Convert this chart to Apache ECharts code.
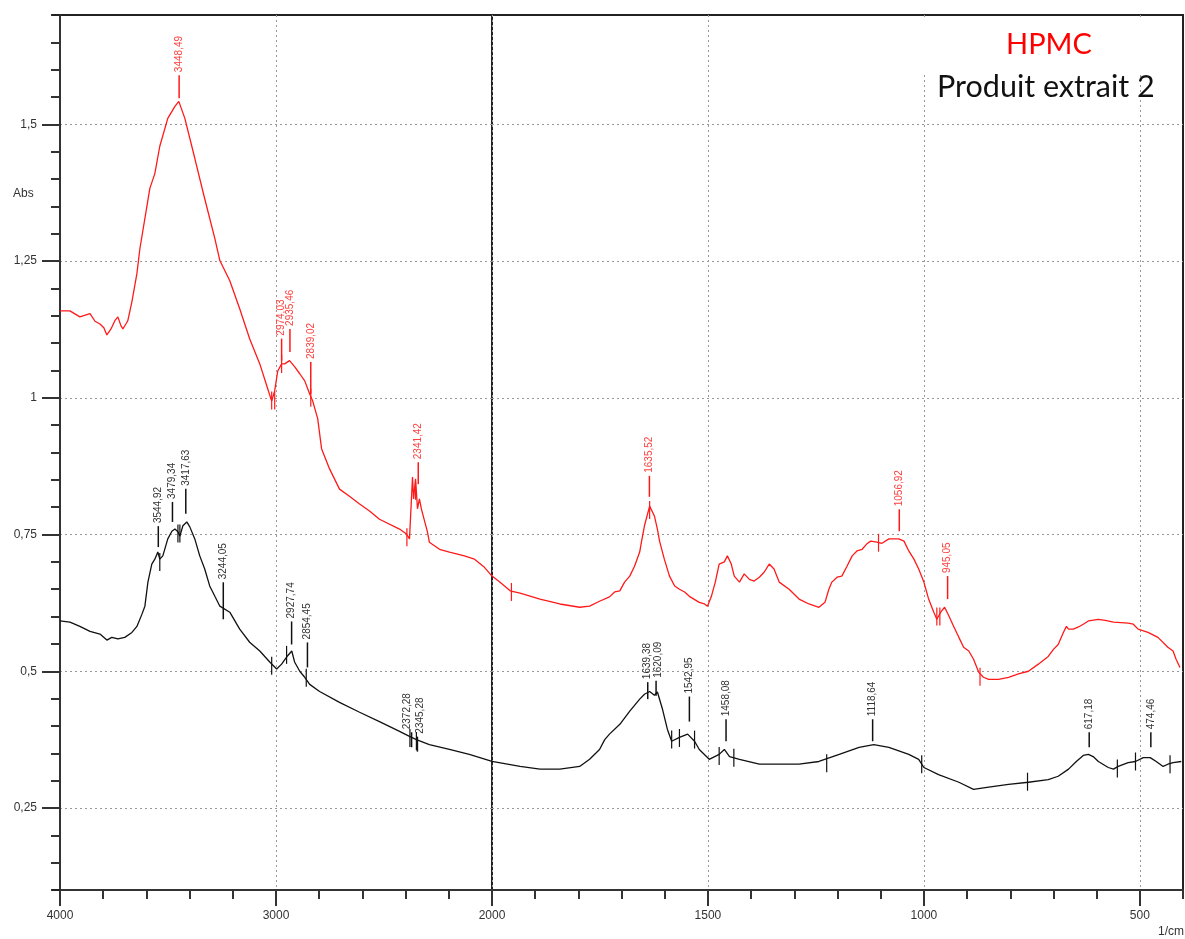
<!DOCTYPE html>
<html>
<head>
<meta charset="utf-8">
<script src="https://cdn.jsdelivr.net/npm/echarts@6/dist/echarts.min.js"></script>
<style>
html, body { margin: 0; padding: 0; background: #fff; }
#main { width: 1185px; height: 939px; }
</style>
</head>
<body>
<div id="main"></div>
<script>
// spectre IR : HPMC (rouge) / Produit extrait 2 (noir)
var redWn = [4000, 3954, 3908, 3861, 3838, 3815, 3797, 3783, 3764, 3746, 3732, 3718, 3709, 3695, 3686, 3667, 3644, 3630,
	3584, 3561, 3538, 3501, 3468, 3450, 3422, 3376, 3330, 3283, 3260, 3214, 3168, 3122, 3075, 3038, 3020, 3006, 2992,
	2974, 2960, 2937, 2914, 2890, 2867, 2844, 2830, 2807, 2789, 2752, 2706, 2660, 2613, 2567, 2521, 2428, 2396, 2382,
	2368, 2363, 2354, 2345, 2336, 2327, 2299, 2290, 2243, 2197, 2128, 2081, 2035, 2000,
	1982, 1958, 1935, 1889, 1843, 1797, 1774, 1751, 1728, 1716, 1704, 1693, 1681, 1670, 1658, 1654, 1647, 1635, 1631,
	1624, 1617, 1612, 1601, 1589, 1577, 1566, 1554, 1543, 1520, 1508, 1501, 1492, 1483, 1474, 1462, 1455, 1446, 1439,
	1427, 1416, 1404, 1393, 1381, 1370, 1358, 1347, 1335, 1312, 1289, 1266, 1243, 1229, 1220, 1213, 1201, 1190, 1178,
	1166, 1155, 1143, 1132, 1123, 1109, 1097, 1081, 1058, 1046, 1035, 1023, 1012, 1000, 989, 977, 970, 961, 952, 942,
	931, 919, 908, 896, 885, 873, 862, 850, 827, 804, 781, 758, 735, 712, 700, 689, 677, 670, 665, 654, 642, 631, 619,
	596, 580, 561, 527, 515, 504, 481, 458, 435, 423, 416, 407];
var redAbs = [1.159, 1.159, 1.148, 1.154, 1.140, 1.135, 1.128, 1.115, 1.126, 1.141, 1.148, 1.132, 1.126, 1.135, 1.141, 1.176, 1.227, 1.273,
	1.383, 1.410, 1.460, 1.511, 1.533, 1.542, 1.511, 1.438, 1.364, 1.291, 1.251, 1.214, 1.163, 1.108, 1.062, 1.016, 0.994, 1.013, 1.049,
	1.062, 1.062, 1.068, 1.057, 1.044, 1.031, 1.007, 0.994, 0.962, 0.907, 0.870, 0.833, 0.820, 0.806, 0.793, 0.778, 0.760, 0.751, 0.742,
	0.855, 0.815, 0.852, 0.797, 0.815, 0.797, 0.755, 0.736, 0.723, 0.718, 0.711, 0.705, 0.690, 0.674,
	0.663, 0.647, 0.643, 0.632, 0.623, 0.617, 0.619, 0.628, 0.636, 0.645, 0.647, 0.663, 0.674, 0.692, 0.718, 0.736, 0.766, 0.802, 0.800,
	0.784, 0.760, 0.738, 0.705, 0.674, 0.656, 0.650, 0.645, 0.637, 0.626, 0.623, 0.619, 0.637, 0.663, 0.696, 0.700, 0.711, 0.696, 0.674,
	0.663, 0.678, 0.668, 0.665, 0.672, 0.681, 0.696, 0.687, 0.663, 0.650, 0.632, 0.623, 0.617, 0.626, 0.650, 0.663, 0.672, 0.674, 0.692,
	0.711, 0.720, 0.723, 0.733, 0.738, 0.736, 0.734, 0.742, 0.742, 0.738, 0.720, 0.705, 0.687, 0.663, 0.632, 0.608, 0.595, 0.608, 0.617, 0.601,
	0.582, 0.562, 0.544, 0.537, 0.522, 0.498, 0.489, 0.485, 0.485, 0.489, 0.495, 0.500, 0.513, 0.527, 0.540, 0.549, 0.571, 0.582, 0.577, 0.577, 0.581, 0.586, 0.592,
	0.595, 0.593, 0.590, 0.588, 0.586, 0.577, 0.571, 0.562, 0.544, 0.537, 0.522, 0.507];

var blackWn = [4000, 3954, 3908, 3861, 3815, 3783, 3760, 3732, 3700, 3667, 3644, 3621, 3607, 3593, 3575, 3561, 3547, 3538,
	3524, 3501, 3482, 3468, 3454, 3445, 3431, 3413, 3399, 3376, 3353, 3330, 3307, 3283, 3260, 3214, 3168, 3122, 3075,
	3029, 2997, 2974, 2951, 2927, 2914, 2890, 2867, 2844, 2798, 2706, 2613, 2521, 2428, 2382, 2350, 2290, 2197, 2105, 2000,
	1935, 1889, 1843, 1797, 1774, 1751, 1739, 1728, 1704, 1681, 1658, 1647, 1635, 1624, 1617, 1605, 1594, 1584, 1566,
	1547, 1531, 1520, 1497, 1474, 1462, 1450, 1427, 1381, 1335, 1289, 1243, 1196, 1150, 1116, 1081, 1035, 1012, 1000,
	966, 919, 885, 850, 804, 758, 712, 689, 665, 647, 631, 619, 608, 596, 573, 561, 550, 527, 510, 492, 476, 462, 446,
	435, 423, 404];
var blackAbs = [0.592, 0.590, 0.582, 0.573, 0.568, 0.557, 0.562, 0.559, 0.562, 0.571, 0.582, 0.604, 0.619, 0.663, 0.696, 0.705, 0.718, 0.705,
	0.711, 0.742, 0.756, 0.760, 0.755, 0.747, 0.766, 0.773, 0.764, 0.742, 0.711, 0.687, 0.656, 0.637, 0.619, 0.608, 0.577, 0.553, 0.537,
	0.517, 0.504, 0.513, 0.526, 0.537, 0.517, 0.500, 0.489, 0.476, 0.463, 0.443, 0.425, 0.408, 0.390, 0.381, 0.375, 0.366, 0.357, 0.348, 0.335,
	0.326, 0.321, 0.321, 0.326, 0.339, 0.357, 0.375, 0.385, 0.403, 0.427, 0.449, 0.458, 0.463, 0.456, 0.462, 0.430, 0.394, 0.372, 0.379,
	0.385, 0.372, 0.357, 0.339, 0.348, 0.357, 0.344, 0.339, 0.330, 0.330, 0.330, 0.335, 0.348, 0.361, 0.366, 0.361, 0.348, 0.339, 0.324,
	0.311, 0.297, 0.284, 0.288, 0.293, 0.297, 0.302, 0.308, 0.321, 0.335, 0.346, 0.348, 0.344, 0.335, 0.324, 0.321, 0.326, 0.333, 0.335, 0.342, 0.342, 0.335, 0.326,
	0.330, 0.333, 0.335];

// pics annotés (nombre d'onde, absorbance au pied du trait)
var redPeakWn = [3448.49, 2974.03, 2935.46, 2839.02, 2341.42, 1635.52, 1056.92, 945.05];
var redPeakAbs = [1.548, 1.068, 1.084, 1.007, 0.842, 0.819, 0.756, 0.632];
var blackPeakWn = [3544.92, 3479.34, 3417.63, 3244.05, 2927.74, 2854.45, 2372.28, 2345.28, 1639.38, 1620.09, 1542.95, 1458.08, 1118.64, 617.18, 474.46];
var blackPeakAbs = [0.727, 0.773, 0.788, 0.595, 0.549, 0.507, 0.361, 0.353, 0.449, 0.455, 0.408, 0.372, 0.372, 0.361, 0.361];

// petits traits de vallée
var redValleyWn = [3020, 3006, 2974, 2839, 2394, 2354, 1955, 1635, 1105, 970, 963, 870];
var redValleyAbs = [0.995, 0.995, 1.062, 1.000, 0.745, 0.830, 0.645, 0.795, 0.735, 0.600, 0.600, 0.490];
var blackValleyWn = [3538, 3454, 3445, 3020, 2951, 2860, 2380, 2350, 1584, 1566, 1531, 1474, 1440, 1225, 1005, 760, 552, 510, 430];
var blackValleyAbs = [0.700, 0.752, 0.752, 0.510, 0.530, 0.488, 0.378, 0.372, 0.375, 0.378, 0.375, 0.345, 0.342, 0.332, 0.330, 0.298, 0.322, 0.335, 0.330];

// graduations
var xMajorLeft = [4000, 3000, 2000];
var xLabelLeft = [4000, 3000];
var xMinorLeft = [4000, 3800, 3600, 3400, 3200, 3000, 2800, 2600, 2400, 2200, 2000];
var xMajorRight = [2000, 1500, 1000, 500];
var xMinorRight = [2000, 1900, 1800, 1700, 1600, 1500, 1400, 1300, 1200, 1100, 1000, 900, 800, 700, 600, 500, 400];
var yMajor = [0.25, 0.5, 0.75, 1, 1.25, 1.5];
var yMinor = [0.1, 0.15, 0.2, 0.25, 0.3, 0.35, 0.4, 0.45, 0.5, 0.55, 0.6, 0.65, 0.7, 0.75, 0.8, 0.85, 0.9, 0.95,
	1, 1.05, 1.1, 1.15, 1.2, 1.25, 1.3, 1.35, 1.4, 1.45, 1.5, 1.55, 1.6, 1.65, 1.7];

// longueur des traits d'annotation et décalage du texte (px)
var redStem = [23, 22, 23, 32, 22, 21, 22, 23];
var blackStem = [21, 20, 25, 37, 23, 25, 15, 15, 17, 15, 25, 22, 22, 15, 15];
var blackTextDx = [0, 0, 0, 0, 0, 0, -4, 3, 0, 2, 0, 0, 0, 0, 0];

var RED = '#ff1a1a', BLACK = '#111111';
var Y_MIN = 0.1, Y_MAX = 1.7;

function comma(v) {
	return String(v).replace('.', ',');
}

// coupe une série en deux morceaux (4000-2000 / 2000-400)
function split(wn, ab, left) {
	var out = [];
	for (var i = 0; i < wn.length; i++) {
		if (left ? wn[i] >= 2000 : wn[i] <= 2000) out.push([wn[i], ab[i]]);
	}
	return out;
}
function splitIdx(wn, ab, left) {
	var out = [];
	for (var i = 0; i < wn.length; i++) {
		if (left ? wn[i] >= 2000 : wn[i] < 2000) out.push([wn[i], ab[i], i]);
	}
	return out;
}

function peakRender(wnArr, stemArr, dxArr, lineColor, textColor) {
	return function(params, api) {
		var i = api.value(2);
		var p = api.coord([api.value(0), api.value(1)]);
		var top = p[1] - stemArr[i];
		var dx = dxArr ? dxArr[i] : 0;
		return {
			type: 'group',
			children: [{
				type: 'line',
				shape: { x1: p[0], y1: p[1], x2: p[0], y2: top },
				style: { stroke: lineColor, lineWidth: 1.5 }
			}, {
				type: 'text',
				x: p[0] + dx,
				y: top - 3,
				rotation: Math.PI / 2,
				style: {
					text: comma(wnArr[i].toFixed(2)),
					fill: textColor,
					font: '10px "Liberation Sans", Arial, sans-serif',
					align: 'left',
					verticalAlign: 'middle'
				}
			}]
		};
	};
}
function valleyRender(color) {
	return function(params, api) {
		var p = api.coord([api.value(0), api.value(1)]);
		return {
			type: 'line',
			shape: { x1: p[0], y1: p[1] - 9, x2: p[0], y2: p[1] + 9 },
			style: { stroke: color, lineWidth: 1.2 }
		};
	};
}

var myChart = echarts.init(document.getElementById('main'));

var tickLabel = { color: '#333', fontSize: 12, fontFamily: '"Liberation Sans", Arial, sans-serif' };
var dotted = { show: true, lineStyle: { color: '#999', width: 1, type: [2, 3] } };

function xAxis(grid, min, max, major, labels, ticks, len, showSplit) {
	return {
		type: 'value', gridIndex: grid, position: 'bottom', inverse: true, min: min, max: max,
		axisLine: { show: true, lineStyle: { color: '#333', width: 2 } },
		axisTick: { show: true, inside: false, length: len, customValues: ticks, lineStyle: { color: '#333', width: 2 } },
		axisLabel: major ? Object.assign({ show: true, margin: 20, customValues: labels, formatter: function(v) { return String(v); } }, tickLabel) : { show: false },
		splitLine: showSplit ? dotted : { show: false }
	};
}

option = {
	animation: false,
	backgroundColor: '#fff',
	grid: [
		{ left: 60, top: 15, width: 432, bottom: 49, show: true, borderColor: '#222', borderWidth: 2 },
		{ left: 492, top: 15, right: 2, bottom: 49, show: true, borderColor: '#222', borderWidth: 2 }
	],
	xAxis: [
		xAxis(0, 2000, 4000, true, xLabelLeft, xMajorLeft, 16, true),
		xAxis(0, 2000, 4000, false, null, xMinorLeft, 9, false),
		xAxis(1, 400, 2000, true, xMajorRight, xMajorRight, 16, true),
		xAxis(1, 400, 2000, false, null, xMinorRight, 9, false)
	],
	yAxis: [{
		type: 'value', gridIndex: 0, position: 'left', min: Y_MIN, max: Y_MAX,
		axisLine: { show: true, lineStyle: { color: '#333', width: 2 } },
		axisTick: { show: true, length: 18, customValues: yMajor, lineStyle: { color: '#333', width: 2 } },
		axisLabel: Object.assign({ margin: 23, customValues: yMajor, formatter: comma }, tickLabel),
		splitLine: dotted
	}, {
		type: 'value', gridIndex: 0, position: 'left', min: Y_MIN, max: Y_MAX,
		axisLine: { show: false },
		axisTick: { show: true, length: 9, customValues: yMinor, lineStyle: { color: '#333', width: 2 } },
		axisLabel: { show: false },
		splitLine: { show: false }
	}, {
		type: 'value', gridIndex: 1, position: 'left', min: Y_MIN, max: Y_MAX,
		axisLine: { show: false },
		axisTick: { show: false, customValues: yMajor },
		axisLabel: { show: false },
		splitLine: dotted
	}],
	series: [
		{ type: 'line', xAxisIndex: 0, yAxisIndex: 0, data: split(redWn, redAbs, true), showSymbol: false, lineStyle: { color: RED, width: 1.3 }, z: 3 },
		{ type: 'line', xAxisIndex: 2, yAxisIndex: 2, data: split(redWn, redAbs, false), showSymbol: false, lineStyle: { color: RED, width: 1.3 }, z: 3 },
		{ type: 'line', xAxisIndex: 0, yAxisIndex: 0, data: split(blackWn, blackAbs, true), showSymbol: false, lineStyle: { color: BLACK, width: 1.3 }, z: 3 },
		{ type: 'line', xAxisIndex: 2, yAxisIndex: 2, data: split(blackWn, blackAbs, false), showSymbol: false, lineStyle: { color: BLACK, width: 1.3 }, z: 3 },
		{ type: 'custom', xAxisIndex: 0, yAxisIndex: 0, clip: false, z: 4, data: splitIdx(redPeakWn, redPeakAbs, true), renderItem: peakRender(redPeakWn, redStem, null, RED, '#ff4040') },
		{ type: 'custom', xAxisIndex: 2, yAxisIndex: 2, clip: false, z: 4, data: splitIdx(redPeakWn, redPeakAbs, false), renderItem: peakRender(redPeakWn, redStem, null, RED, '#ff4040') },
		{ type: 'custom', xAxisIndex: 0, yAxisIndex: 0, clip: false, z: 4, data: splitIdx(blackPeakWn, blackPeakAbs, true), renderItem: peakRender(blackPeakWn, blackStem, blackTextDx, BLACK, '#333') },
		{ type: 'custom', xAxisIndex: 2, yAxisIndex: 2, clip: false, z: 4, data: splitIdx(blackPeakWn, blackPeakAbs, false), renderItem: peakRender(blackPeakWn, blackStem, blackTextDx, BLACK, '#333') },
		{ type: 'custom', xAxisIndex: 0, yAxisIndex: 0, z: 4, data: split(redValleyWn, redValleyAbs, true), renderItem: valleyRender(RED) },
		{ type: 'custom', xAxisIndex: 2, yAxisIndex: 2, z: 4, data: split(redValleyWn, redValleyAbs, false), renderItem: valleyRender(RED) },
		{ type: 'custom', xAxisIndex: 0, yAxisIndex: 0, z: 4, data: split(blackValleyWn, blackValleyAbs, true), renderItem: valleyRender(BLACK) },
		{ type: 'custom', xAxisIndex: 2, yAxisIndex: 2, z: 4, data: split(blackValleyWn, blackValleyAbs, false), renderItem: valleyRender(BLACK) }
	],
	graphic: [
		{ type: 'rect', left: 905, top: 18, shape: { width: 275, height: 54 }, style: { fill: '#fff' }, z: 10 },
		{ type: 'line', shape: { x1: 52, y1: 15, x2: 60, y2: 15 }, style: { stroke: '#222', lineWidth: 2 }, z: 10 },
		{ type: 'line', shape: { x1: 52, y1: 890, x2: 60, y2: 890 }, style: { stroke: '#222', lineWidth: 2 }, z: 10 },
		{ type: 'text', left: 1006, top: 30, z: 11, style: { text: 'HPMC', fill: '#ff0000', font: '29px Lato, "Open Sans", sans-serif' } },
		{ type: 'text', left: 937, top: 72, z: 11, style: { text: 'Produit extrait 2', fill: '#111', font: '30.5px Lato, "Open Sans", sans-serif' } },
		{ type: 'text', left: 13, top: 188, z: 11, style: { text: 'Abs', fill: '#333', font: '12px "Liberation Sans", Arial, sans-serif' } },
		{ type: 'text', left: 1158, top: 926, z: 11, style: { text: '1/cm', fill: '#333', font: '12px "Liberation Sans", Arial, sans-serif' } }
	]
};
myChart.setOption(option);
</script>
</body>
</html>
